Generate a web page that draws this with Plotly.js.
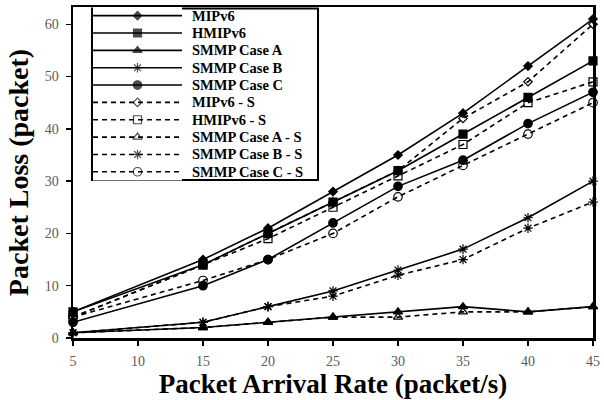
<!DOCTYPE html>
<html>
<head>
<meta charset="utf-8">
<script src="https://cdn.plot.ly/plotly-3.0.1.min.js"></script>
<style>html,body{margin:0;padding:0;background:#fff;}#chart{width:604px;height:400px;}</style>
</head>
<body>
<div id="chart"></div>
<script>
// ---- data ----
var arrivalRate = [5, 15, 20, 25, 30, 35, 40, 45];
var xTicks = [5, 10, 15, 20, 25, 30, 35, 40, 45];
var yTicks = [0, 10, 20, 30, 40, 50, 60];

var seriesNames = ["MIPv6", "HMIPv6", "SMMP Case A", "SMMP Case B", "SMMP Case C",
                   "MIPv6 - S", "HMIPv6 - S", "SMMP Case A - S", "SMMP Case B - S", "SMMP Case C - S"];

var mipv6      = [5, 15, 21, 28, 35, 43, 52, 61];
var hmipv6     = [5, 14, 20, 26, 32, 39, 46, 53];
var smmpA      = [1, 2, 3, 4, 5, 6, 5, 6];
var smmpB      = [1, 3, 6, 9, 13, 17, 23, 30];
var smmpC      = [3, 10, 15, 22, 29, 34, 41, 47];
var mipv6S     = [4, 14, 20, 26, 32, 42, 49, 60];
var hmipv6S    = [4, 14, 19, 25, 31, 37, 45, 49];
var smmpAS     = [1, 2, 3, 4, 4, 5, 5, 6];
var smmpBS     = [1, 3, 6, 8, 12, 15, 21, 26];
var smmpCS     = [4, 11, 15, 20, 27, 33, 39, 45];

var seriesValues = [mipv6, hmipv6, smmpA, smmpB, smmpC, mipv6S, hmipv6S, smmpAS, smmpBS, smmpCS];

// ---- styles ----
var symbols = ["diamond", "square", "triangle-up", "asterisk-open", "circle",
               "diamond-open", "square-open", "triangle-up-open", "asterisk-open", "circle-open"];
var sizes = [6.5, 8, 8, 8, 8.5, 6.5, 8, 8, 8, 8.5];
var dashed = [false, false, false, false, false, true, true, true, true, true];

var traces = [];
seriesNames.forEach(function (name, i) {
  traces.push({
    type: "scatter", mode: "lines+markers", name: name,
    x: arrivalRate, y: seriesValues[i],
    cliponaxis: false,
    line: {color: "#000", width: 1.6, dash: dashed[i] ? "5px,4px" : "solid"},
    marker: {symbol: symbols[i], size: sizes[i], color: "#000",
             line: {color: "#000", width: 1.2}},
    showlegend: false
  });
});

// custom legend samples (drawn on a hidden overlay axis pair)
var annotations = [];
seriesNames.forEach(function (name, i) {
  traces.push({
    type: "scatter", mode: "lines+markers", xaxis: "x2", yaxis: "y2",
    x: [0, 0.5, 1], y: [i, i, i], hoverinfo: "skip", showlegend: false,
    cliponaxis: false,
    line: {color: "#000", width: 1.6, dash: dashed[i] ? "5px,4px" : "solid"},
    marker: {symbol: symbols[i], size: [0, sizes[i], 0], color: "#000",
             line: {color: "#000", width: 1.2}}
  });
  annotations.push({
    xref: "paper", yref: "y2", x: 0.225, y: i, xanchor: "left", yanchor: "middle",
    text: name, showarrow: false,
    font: {family: "Liberation Serif", size: 14.5, color: "#000", weight: "bold"}
  });
});

var tickFont = {family: "Liberation Serif", size: 14, color: "#595959"};

var layout = {
  width: 604, height: 400,
  margin: {l: 73, r: 11, t: 7, b: 62},
  paper_bgcolor: "#fff", plot_bgcolor: "#fff",
  showlegend: false,
  xaxis: {
    range: [5, 45], tickvals: xTicks, ticks: "outside", ticklen: 5, tickwidth: 1.5,
    tickcolor: "#000", linecolor: "#000", linewidth: 2.5, mirror: true,
    showgrid: false, zeroline: false, tickfont: tickFont, ticklabelstandoff: 4,
    title: {text: "Packet Arrival Rate (packet/s)", standoff: 6,
            font: {family: "Liberation Serif", size: 27, color: "#000", weight: "bold"}}
  },
  yaxis: {
    range: [0, 63.3], tickvals: yTicks, ticks: "outside", ticklen: 5, tickwidth: 1.5,
    tickcolor: "#000", linecolor: "#000", linewidth: 2.5, mirror: true,
    showgrid: false, zeroline: false, tickfont: tickFont, ticklabelstandoff: 4,
    title: {text: "Packet Loss (packet)", standoff: 8,
            font: {family: "Liberation Serif", size: 28, color: "#000", weight: "bold"}}
  },
  xaxis2: {domain: [0.0385, 0.2096], anchor: "y2", range: [0, 1], visible: false, fixedrange: true},
  yaxis2: {domain: [0.476, 1.0], anchor: "x2", range: [9.5, -0.5], visible: false, fixedrange: true},
  shapes: [{
    type: "rect", xref: "paper", yref: "paper", layer: "below",
    x0: 0.0365, x1: 0.4712, y0: 0.4773, y1: 0.9955,
    line: {color: "#000", width: 2}, fillcolor: "rgba(0,0,0,0)"
  }],
  annotations: annotations
};

Plotly.newPlot("chart", traces, layout, {displayModeBar: false, staticPlot: true});
</script>
</body>
</html>
